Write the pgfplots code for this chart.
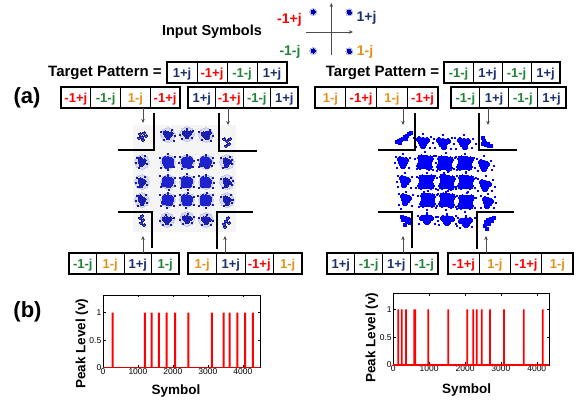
\documentclass[border=0pt]{standalone}
\usepackage{pgfplots}
\pgfplotsset{compat=1.18}
\usepackage{fontspec}
\setmainfont{Liberation Sans}
\usetikzlibrary{arrows.meta}
\definecolor{sblue}{RGB}{28,48,112}
\definecolor{sgreen}{RGB}{34,130,56}
\definecolor{sorange}{RGB}{226,146,28}
\definecolor{lblue}{RGB}{30,35,205}
\definecolor{lhalo}{RGB}{150,155,235}
\definecolor{rblue}{RGB}{0,0,255}
\newcommand{\cellfont}{\fontsize{13}{14}\selectfont\bfseries}
\newcommand{\patbox}[5]{%
 \pgfmathsetmacro{\cw}{(#2-#1)/4}%
 \foreach \col/\lab [count=\i from 0] in {#5}{%
   \node[text=\col, font=\cellfont, inner sep=0pt, anchor=base] at ({#1+(\i+0.5)*\cw},{404-(#3+#4)/2-4.6}) {\lab};}%
 \foreach \k in {1,2,3}{\draw[line width=0.8pt] ({#1+\k*\cw},{404-#3}) -- ({#1+\k*\cw},{404-#4});}%
 \draw[line width=1.5pt] (#1,{404-#3}) rectangle (#2,{404-#4});%
}
\pgfplotsset{
  peakplot/.style={anchor=south west, scale only axis, ymin=0, clip=false,
    xtick={0,1000,2000,3000,4000}, ytick={0,0.5,1},
    tick align=inside, major tick length=2.5pt, tick style={line width=0.5pt, black},
    axis line style={line width=0.6pt},
    /pgf/number format/assume math mode=true, /pgf/number format/1000 sep={},
    ticklabel style={font=\fontsize{8.5}{9}\selectfont},
    xticklabel style={inner sep=0.5pt},
    yticklabel style={inner sep=1.5pt},
    xlabel={Symbol}, ylabel={Peak Level (v)},
    label style={font=\fontsize{13.5}{14}\selectfont\bfseries}},
  const/.style={anchor=south west, scale only axis, width=140pt, height=130pt,
    ymin=120, ymax=250, y dir=reverse, hide axis, clip=false},
  dots/.style={only marks, mark=*, line width=0pt},
  sq/.style={only marks, mark=square*, line width=0pt}
}
\begin{document}
\begin{tikzpicture}[x=1pt,y=1pt]
\path[use as bounding box] (0,0) rectangle (579,404);
\fill[black!4] (133,172) rectangle (236,279);

% ---------- left constellation ----------
\begin{axis}[const, at={(120pt,154pt)}, xmin=120, xmax=260]
\addplot[dots, color=lhalo, mark size=7.3pt, opacity=0.3] coordinates {
(168,135)(187,134)(206,135)(142,162)(168,162)(187,162)(206,162)(227,162)(142,182)(168,182)(187,182)(206,182)(227,182)(142,200)(168,200)(187,200)(206,200)(227,200)(167,220)(187,219)(206,220)};
\addplot[dots, color=lblue, mark size=5.5pt] coordinates {
(168,162)(187,162)(206,162)(168,182)(187,182)(206,182)(168,200)(187,200)(206,200)};
\addplot[dots, color=lblue!90!black, mark size=3.6pt] coordinates {
(168,135)(187,134)(206,135)(167,220)(187,219)(206,220)(142,162)(142,182)(142,200)(227,162)(227,182)(227,200)};
\addplot[dots, color=lblue, mark size=2.6pt] coordinates {
(165,159)(171,160)(167,166)(171,165)
(184,160)(190,159)(189,166)(185,165)
(203,159)(209,161)(207,166)(202,164)
(165,179)(171,180)(169,185)(164,184)
(184,179)(190,180)(189,185)(184,185)
(203,179)(209,181)(208,185)(203,185)
(165,197)(171,198)(170,203)(164,202)
(184,197)(190,198)(189,203)(185,203)
(203,197)(209,198)(208,203)(203,203)};
\addplot[dots, color=lblue!85!black, mark size=2pt] coordinates {
(165,133)(171,134)(168,138)
(184,133)(190,133)(187,137)
(203,134)(209,133)(207,138)
(164,219)(170,219)(167,223)
(184,218)(190,219)(187,222)
(203,219)(209,220)(206,223)
(140,159)(144,161)(141,165)
(140,180)(144,182)(141,186)
(140,197)(144,200)(142,204)
(225,160)(229,162)(226,166)
(225,180)(229,183)(226,186)
(225,198)(229,200)(227,204)};
\addplot[dots, color=lblue!80!black, mark size=0.9pt] coordinates {
(160,158)(175,157)(161,168)(174,167)(168,154)(168,170)
(180,157)(194,161)(182,169)(193,167)(187,155)(179,163)
(198,160)(213,158)(199,167)(212,166)(206,155)(214,163)
(160,176)(175,178)(161,187)(175,186)(168,175)(169,190)
(180,178)(194,177)(181,188)(194,187)(187,174)(188,190)
(199,176)(213,178)(199,188)(213,188)(206,175)(214,183)
(160,195)(175,196)(161,206)(174,206)(168,193)(167,208)
(180,195)(194,197)(180,205)(194,205)(188,193)(186,208)
(198,196)(213,195)(199,206)(213,205)(207,193)(206,208)
(161,132)(175,136)(164,140)(172,130)(174,141)
(180,135)(193,131)(182,139)(192,138)(187,129)
(199,132)(213,136)(202,140)(210,130)(211,141)
(160,221)(174,218)(163,225)(171,225)(166,215)
(180,220)(194,217)(183,224)(192,223)(188,214)
(199,218)(213,221)(202,225)(211,225)(207,215)
(137,158)(147,164)(139,168)(145,156)(136,163)
(137,178)(147,185)(138,187)(145,177)(136,183)
(137,196)(147,203)(138,206)(146,195)(136,201)
(221,158)(232,164)(223,168)(230,157)(232,160)
(221,179)(232,185)(223,188)(231,178)(233,181)
(221,197)(232,203)(224,206)(231,195)(233,200)};
\addplot[dots, color=lblue!80!black, mark size=1.2pt] coordinates {
(140,134)(144,133)(142,137)(146,136)(139,138)(143,140)
(224,139)(227,141)(229,144)(226,146)(230,139)
(140,218)(143,220)(141,223)(144,225)(142,216)
(228,218)(226,221)(224,224)(229,223)(225,227)};
\end{axis}

% ---------- right constellation ----------
\begin{axis}[const, at={(380pt,154pt)}, xmin=380, xmax=520]
\addplot[dots, color=rblue, mark size=6.8pt] coordinates {
(425,162)(445,163)(465,163)(426,182)(447,182)(466,182)(428,200)(447,200)(466,202)};
\addplot[dots, color=rblue, mark size=4.8pt] coordinates {
(423,142)(443,143)(464,143)(427,219)(447,220)(466,222)(403,162)(405,181)(406,199)(484,165)(485,185)(488,202)};
\addplot[dots, color=rblue, mark size=3.2pt] coordinates {
(421,158)(430,159)(429,167)(420,166)
(441,159)(450,160)(449,168)(440,167)
(461,159)(470,160)(469,167)(460,167)
(422,178)(431,178)(431,186)(421,186)
(443,177)(452,179)(451,187)(442,186)
(462,178)(471,179)(470,186)(461,186)
(424,196)(432,197)(432,204)(423,204)
(443,196)(452,197)(451,205)(442,204)
(462,198)(471,198)(470,206)(461,206)};
\addplot[dots, color=rblue, mark size=2.6pt] coordinates {
(419,139)(427,140)(423,146)
(439,140)(448,141)(444,147)
(460,140)(468,141)(465,147)
(422,218)(431,218)(427,222)
(443,218)(452,219)(447,223)
(461,221)(470,220)(466,225)
(400,159)(406,160)(403,166)
(402,178)(408,180)(404,185)
(403,196)(409,198)(405,203)
(481,162)(487,164)(484,169)
(482,182)(489,184)(485,189)
(485,199)(491,201)(487,206)};
\addplot[sq, color=rblue, mark size=0.95pt] coordinates {
(415,159)(434,156)(417,169)(433,170)(425,152)(436,163)
(436,156)(455,158)(437,171)(454,169)(446,153)(444,173)
(456,157)(474,158)(457,170)(475,168)(465,154)(466,172)
(417,177)(435,176)(416,188)(436,189)(427,173)(424,192)
(437,178)(457,176)(438,190)(456,189)(448,172)(446,192)
(457,176)(476,178)(456,187)(475,188)(466,173)(468,192)
(418,196)(437,195)(419,207)(436,208)(428,191)(427,210)
(438,194)(457,196)(437,206)(456,207)(448,191)(446,210)
(457,196)(476,198)(457,209)(475,208)(467,193)(465,212)
(414,138)(431,137)(416,147)(430,148)(423,134)(433,143)
(434,139)(452,138)(435,148)(451,149)(443,135)(454,144)
(455,138)(473,139)(456,149)(472,148)(464,135)(476,144)
(418,216)(436,217)(419,224)(435,224)(427,213)(438,221)
(438,217)(456,216)(439,225)(456,224)(447,214)(459,221)
(458,218)(475,218)(457,226)(472,227)(466,216)(460,228)
(396,157)(410,158)(397,168)(409,168)(403,154)(395,163)
(398,176)(412,177)(398,187)(411,188)(405,173)(397,182)
(399,194)(413,195)(399,205)(412,206)(406,192)(401,209)
(477,159)(491,161)(478,171)(492,170)(484,156)(494,166)
(478,179)(493,180)(478,191)(492,191)(486,176)(495,187)
(481,196)(495,197)(481,208)(494,208)(488,194)(496,203)};
\addplot[sq, color=rblue, mark size=1.1pt] coordinates {
(397,142)(399,141)(401,140)(403,139)(405,137)(407,136)(409,134)(411,133)(400,143)(406,139)
(483,138)(484,141)(483,144)(486,145)(489,146)(491,146)(485,143)(488,144)
(402,217)(405,218)(403,220)(407,222)(410,223)(405,225)(408,219)(411,220)
(494,218)(491,219)(488,220)(486,222)(489,224)(485,226)(487,229)(492,221)};
\end{axis}

% ---------- input symbols ----------
\begin{axis}[at={(306pt,349pt)}, anchor=south west, scale only axis, width=47pt, height=52pt,
  xmin=-1.4, xmax=1.2, ymin=-1.15, ymax=1.45, axis lines=middle, xtick=\empty, ytick=\empty,
  axis line style={line width=0.7pt, black!70, -{Stealth[length=4pt,width=3.5pt]}},
  inner axis line style={-{Stealth[length=4pt,width=3.5pt]}}, clip=false]
\addplot[dots, color=lhalo, mark size=3.6pt, opacity=0.5] coordinates {(-1,1)(1,0.98)(-1,-0.95)(1,-0.97)};
\addplot[dots, color=blue!65!black, mark size=2.1pt] coordinates {(-1,1)(1,0.98)(-1,-0.95)(1,-0.97)};
\end{axis}

\node[font=\fontsize{14.5}{15}\selectfont\bfseries] at (212,372) {Input Symbols};
\node[font=\fontsize{14}{15}\selectfont\bfseries, text=red] at (289.5,384) {-1+j};
\node[font=\fontsize{14}{15}\selectfont\bfseries, text=sblue] at (366.5,386) {1+j};
\node[font=\fontsize{14}{15}\selectfont\bfseries, text=sgreen] at (290,352) {-1-j};
\node[font=\fontsize{14}{15}\selectfont\bfseries, text=sorange] at (365,352) {1-j};

\node[font=\fontsize{15}{16}\selectfont\bfseries] at (105,331) {Target Pattern =};
\node[font=\fontsize{15}{16}\selectfont\bfseries] at (382.5,331) {Target Pattern =};
\node[font=\fontsize{22}{24}\selectfont\bfseries] at (27,306) {(a)};
\node[font=\fontsize{22}{24}\selectfont\bfseries] at (27.5,92) {(b)};

% ---------- pattern boxes ----------
\patbox{167}{287}{62}{83}{sblue/1+j, red/-1+j, sgreen/-1-j, sblue/1+j}
\patbox{444}{560}{62}{83}{sgreen/-1-j, sblue/1+j, sgreen/-1-j, sblue/1+j}
\patbox{61}{180}{87}{108}{red/-1+j, sgreen/-1-j, sorange/1-j, red/-1+j}
\patbox{188}{298}{87}{108}{sblue/1+j, red/-1+j, sgreen/-1-j, sblue/1+j}
\patbox{315}{438}{87}{108}{sorange/1-j, red/-1+j, sorange/1-j, red/-1+j}
\patbox{451}{566}{87}{108}{sgreen/-1-j, sblue/1+j, sgreen/-1-j, sblue/1+j}
\patbox{69}{179}{253}{274}{sgreen/-1-j, sorange/1-j, sblue/1+j, sgreen/1-j}
\patbox{188}{302}{253}{274}{sorange/1-j, sblue/1+j, red/-1+j, sorange/1-j}
\patbox{327}{438}{253}{274}{sblue/1+j, sgreen/-1-j, sblue/1+j, sgreen/-1-j}
\patbox{448}{573}{253}{274}{red/-1+j, sorange/1-j, red/-1+j, sorange/1-j}

% ---------- arrows ----------
\begin{scope}[line width=0.8pt, black!70, -{Stealth[length=4pt,width=3.5pt]}]
\draw (143,296) -- (143,281);
\draw (228,296) -- (228,279);
\draw (403,296) -- (403,279);
\draw (488,296) -- (488,279);
\draw (143,151) -- (143,168);
\draw (225,151) -- (225,168);
\draw (403,151) -- (403,168);
\draw (486,151) -- (486,168);
\end{scope}

% ---------- corner lines ----------
\begin{scope}[line width=1.3pt]
\draw (118,254) -- (154,254) -- (154,291);
\draw (219,291) -- (219,253) -- (257,253);
\draw (118,192) -- (152,192) -- (152,156);
\draw (253,192) -- (217,192) -- (217,155);
\draw (378,254) -- (415,254) -- (415,291);
\draw (479,291) -- (479,254) -- (517,254);
\draw (378,192) -- (412,192) -- (412,156);
\draw (514,192) -- (477,192) -- (477,155);
\end{scope}

% ---------- peak level plots ----------
\begin{axis}[peakplot, at={(103pt,36.3pt)}, width=157pt, height=72.7pt, xmin=0, xmax=4490, ymax=1.32,
  xlabel style={at={(axis description cs:0.465,-0.32)}, anchor=center},
  ylabel style={at={(axis description cs:-0.135,0.33)}, anchor=center}]
\addplot[ybar, bar width=2pt, bar shift=0pt, fill=red, draw=none] coordinates {
(277,1)(1200,1)(1390,1)(1600,1)(1820,1)(2060,1)(2440,1)(3114,1)(3450,1)(3620,1)(3840,1)(4066,1)(4286,1)};
\addplot[draw=red!85!black, line width=1.6pt, mark=none] coordinates {(0,0) (4490,0)};
\end{axis}

\begin{axis}[peakplot, at={(393.3pt,39pt)}, width=156pt, height=71.7pt, xmin=0, xmax=4350, ymax=1.29,
  xlabel style={at={(axis description cs:0.47,-0.35)}, anchor=center},
  ylabel style={at={(axis description cs:-0.137,0.38)}, anchor=center}]
\addplot[ybar, bar width=1.7pt, bar shift=0pt, fill=red, draw=none] coordinates {
(139,1)(234,1)(354,1)(586,1)(610,1)(977,1)(1534,1)(2064,1)(2232,1)(2325,1)(2465,1)(2697,1)(3088,1)(3635,1)(4167,1)};
\addplot[draw=red, line width=1.4pt, mark=none] coordinates {(0,0) (4350,0)};
\end{axis}
\end{tikzpicture}
\end{document}
